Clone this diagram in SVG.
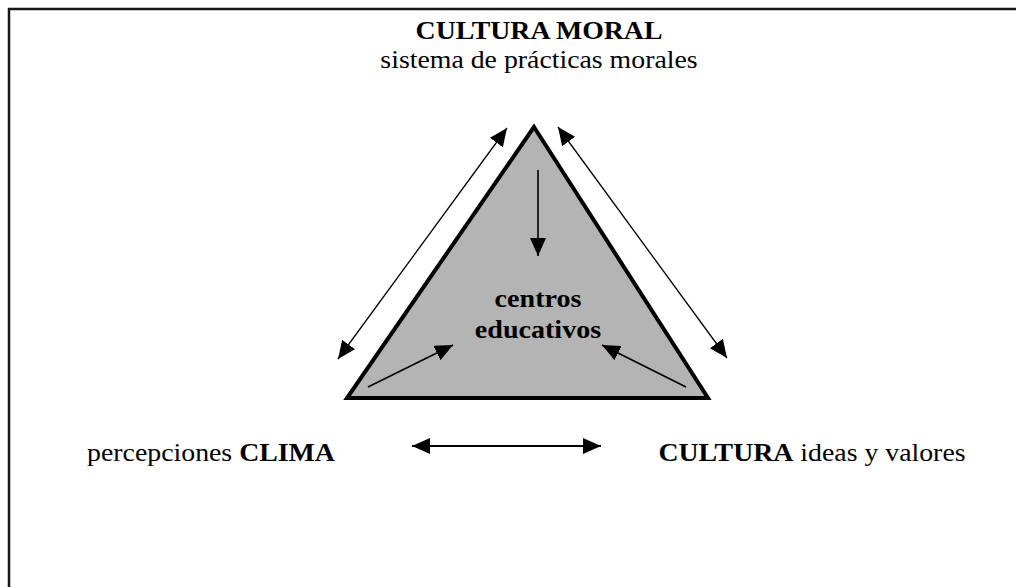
<svg xmlns="http://www.w3.org/2000/svg" width="1016" height="587" viewBox="0 0 1016 587">
<style>
text{font-family:"Liberation Serif","Times New Roman",serif;font-size:26px;fill:#000}
.b{font-weight:bold}
.c{stroke:#000;fill:none}
</style>
<defs>
<marker id="ah" markerUnits="userSpaceOnUse" markerWidth="19" markerHeight="18" refX="18" refY="8" orient="auto-start-reverse" viewBox="0 0 19 18">
<path d="M0,0 L18,8 L0,16 Z" fill="#000"/>
</marker>
</defs>
<rect width="1016" height="587" fill="#fff"/>
<g id="frame">
<path d="M9,587 V9 H1016" fill="none" stroke="#161616" stroke-width="2.5"/>
</g>
<g id="triangle">
<polygon points="534,127 347,398 708,398" fill="#b4b4b4" stroke="#000" stroke-width="4" stroke-linejoin="miter"/>
<text class="b" text-anchor="middle" transform="translate(538,307) scale(1.08,1)">centros</text>
<text class="b" text-anchor="middle" transform="translate(538,338) scale(1.08,1)">educativos</text>
</g>
<g id="cultura-moral">
<text class="b" text-anchor="middle" transform="translate(539,39) scale(1.07,1)">CULTURA MORAL</text>
<text text-anchor="middle" transform="translate(539,68) scale(1.07,1)">sistema de prácticas morales</text>
</g>
<g id="clima">
<text text-anchor="middle" transform="translate(211,461) scale(1.07,1)">percepciones <tspan class="b">CLIMA</tspan></text>
</g>
<g id="cultura-ideas">
<text text-anchor="middle" transform="translate(812,461) scale(1.07,1)"><tspan class="b">CULTURA</tspan> ideas y valores</text>
</g>
<g id="connectors">
<line class="c" x1="338" y1="359" x2="507" y2="128" stroke-width="1.3" marker-start="url(#ah)" marker-end="url(#ah)"/>
<line class="c" x1="558" y1="127" x2="727" y2="358" stroke-width="1.3" marker-start="url(#ah)" marker-end="url(#ah)"/>
<line class="c" x1="538" y1="170" x2="538" y2="256" stroke-width="1.6" marker-end="url(#ah)"/>
<line class="c" x1="368" y1="387" x2="453" y2="345" stroke-width="1.6" marker-end="url(#ah)"/>
<line class="c" x1="686" y1="387" x2="602" y2="345" stroke-width="1.6" marker-end="url(#ah)"/>
<line class="c" x1="412" y1="446" x2="601" y2="446" stroke-width="2" marker-start="url(#ah)" marker-end="url(#ah)"/>
</g>
</svg>
